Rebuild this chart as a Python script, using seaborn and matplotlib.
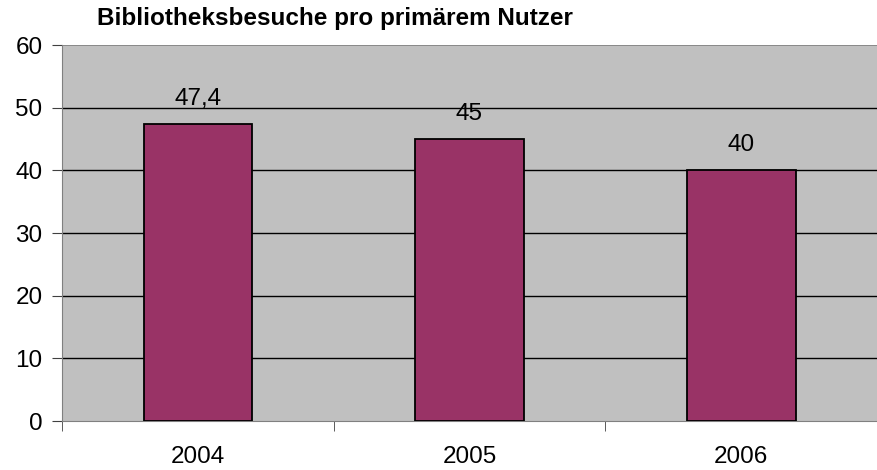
import numpy as np
import seaborn as sns
import matplotlib.pyplot as plt
import pandas as pd

# Daten
jahre = ['2004', '2005', '2006']
besuche = [47.4, 45, 40]
beschriftung = ['47,4', '45', '40']

df = pd.DataFrame({'Jahr': jahre, 'Besuche': besuche})

sns.set_style("white")
plt.rcParams['font.family'] = ['Liberation Sans', 'DejaVu Sans']
plt.rcParams['text.color'] = 'black'
plt.rcParams['xtick.color'] = 'black'
plt.rcParams['ytick.color'] = 'black'

fig = plt.figure(figsize=(8.77, 4.70), dpi=100)
ax = fig.add_axes([62 / 877, 49 / 470, 815 / 877, 376 / 470])
ax.set_facecolor('#C0C0C0')

sns.barplot(x='Jahr', y='Besuche', data=df, color='#993366', width=0.4,
            edgecolor='black', linewidth=1.3, saturation=1, ax=ax, zorder=3)

ax.set_ylim(0, 60)
ax.set_xlim(-0.5, 2.5)
ax.set_yticks(np.arange(0, 61, 10))
for y in range(10, 60, 10):
    ax.axhline(y, color='black', linewidth=1, zorder=1)

# Balkenbeschriftung
for patch, txt in zip(ax.patches, beschriftung):
    ax.text(patch.get_x() + patch.get_width() / 2, patch.get_height() + 2.3, txt,
            ha='center', va='bottom', fontsize=17.5, color='black')

# Achsen
for s in ['top', 'right']:
    ax.spines[s].set_visible(False)
ax.spines['left'].set_color('#808080')
ax.spines['bottom'].set_color('#808080')
ax.axhline(60, color='#808080', linewidth=1.2, zorder=2)

ax.set_xticks([0, 1, 2])
ax.set_xticks([-0.5, 0.5, 1.5, 2.5], minor=True)
ax.tick_params(axis='x', which='major', length=0, pad=18, labelsize=17.5, labelcolor='black')
ax.tick_params(axis='x', which='minor', length=7, color='#404040', direction='out', bottom=True)
ax.tick_params(axis='y', length=7, color='#404040', direction='out', left=True, pad=7,
               labelsize=17.5, labelcolor='black')

ax.set_xlabel('')
ax.set_ylabel('')
fig.text(97 / 877, 1 - 19 / 470, 'Bibliotheksbesuche pro primärem Nutzer',
         fontsize=17.5, fontweight='bold', ha='left', va='center', color='black')

plt.savefig('out.png', dpi=100)
